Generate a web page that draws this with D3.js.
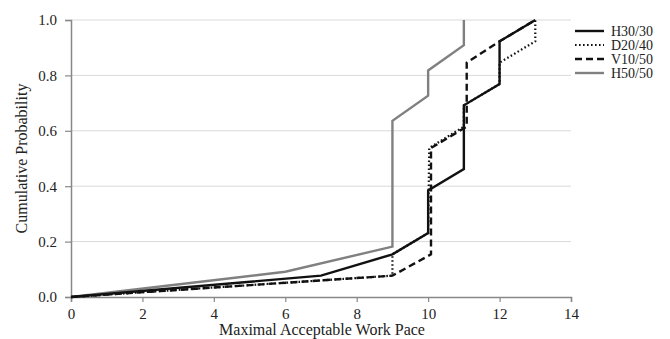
<!DOCTYPE html>
<html>
<head>
<meta charset="utf-8">
<script src="https://cdn.jsdelivr.net/npm/d3@7"></script>
<style>
  html, body { margin: 0; padding: 0; background: #fff; }
  svg { display: block; }
  text { font-family: "Liberation Serif", "DejaVu Serif", serif; fill: #222; }
</style>
</head>
<body>
<div id="chart"></div>
<script>
// series (x = work pace, y = cumulative probability)
const h3030 = [[0, 0], [7, 0.077], [9, 0.154], [10, 0.231], [10, 0.385], [11, 0.462], [11, 0.692], [12, 0.769], [12, 0.923], [13, 1.0]];
const d2040 = [[0, 0], [9, 0.077], [9, 0.154], [10, 0.231], [10.03, 0.538], [11, 0.615], [11, 0.692], [12, 0.769], [12, 0.846], [13, 0.923], [13, 1.0]];
const v1050 = [[0, 0], [9, 0.077], [10.08, 0.154], [10.08, 0.538], [11.08, 0.615], [11.08, 0.846], [12, 0.923], [13, 1.0]];
const h5050 = [[0, 0], [6, 0.091], [9, 0.182], [9, 0.636], [10, 0.727], [10, 0.818], [11, 0.909], [11, 1.0]];

const seriesNames = ['H30/30', 'D20/40', 'V10/50', 'H50/50'];
const xTicks = [0, 2, 4, 6, 8, 10, 12, 14];
const yTicks = [0, 0.2, 0.4, 0.6, 0.8, 1.0];

const styles = {
  'H30/30': { color: '#111', dash: null, width: 2.4 },
  'D20/40': { color: '#111', dash: '1.6,2.4', width: 2.2 },
  'V10/50': { color: '#111', dash: '7,4', width: 2.4 },
  'H50/50': { color: '#808080', dash: null, width: 2.4 }
};
const seriesData = { 'H30/30': h3030, 'D20/40': d2040, 'V10/50': v1050, 'H50/50': h5050 };

const width = 670, height = 339;
const margin = { top: 20, right: 99, bottom: 42, left: 71 };

const svg = d3.select('#chart').append('svg')
  .attr('width', width)
  .attr('height', height);

const x = d3.scaleLinear().domain([0, 14]).range([margin.left, width - margin.right]);
const y = d3.scaleLinear().domain([0, 1]).range([height - margin.bottom, margin.top]);

// gridlines
svg.append('g')
  .selectAll('line')
  .data(yTicks.filter(d => d > 0))
  .join('line')
  .attr('x1', x(0)).attr('x2', x(14))
  .attr('y1', d => y(d)).attr('y2', d => y(d))
  .attr('stroke', '#d9d9d9')
  .attr('stroke-width', 1);

// axes
const yAxis = svg.append('g')
  .attr('transform', `translate(${x(0)},0)`)
  .call(d3.axisLeft(y).tickValues(yTicks).tickFormat(d3.format('.1f')).tickSize(6).tickPadding(8));
const xAxis = svg.append('g')
  .attr('transform', `translate(0,${y(0)})`)
  .call(d3.axisBottom(x).tickValues(xTicks).tickSize(5).tickPadding(6));

[yAxis, xAxis].forEach(g => {
  g.select('.domain').attr('stroke', '#888').attr('stroke-width', 1.5);
  g.selectAll('.tick line').attr('stroke', '#888').attr('stroke-width', 1.2);
  g.selectAll('.tick text').style('font-size', '15px').attr('fill', '#222')
    .style('font-family', '"Liberation Serif", serif');
});

// lines
const line = d3.line().x(d => x(d[0])).y(d => y(d[1]));
svg.append('g')
  .selectAll('path')
  .data(seriesNames.slice().reverse())
  .join('path')
  .attr('d', n => line(seriesData[n]))
  .attr('fill', 'none')
  .attr('stroke', n => styles[n].color)
  .attr('stroke-width', n => styles[n].width)
  .attr('stroke-dasharray', n => styles[n].dash)
  .attr('stroke-linejoin', 'miter');

// legend
const legend = svg.append('g').attr('transform', 'translate(575,31)');
const item = legend.selectAll('g')
  .data(seriesNames)
  .join('g')
  .attr('transform', (d, i) => `translate(0,${i * 14})`);
item.append('line')
  .attr('x1', 0).attr('x2', 29)
  .attr('stroke', n => styles[n].color)
  .attr('stroke-width', n => styles[n].width)
  .attr('stroke-dasharray', n => styles[n].dash);
item.append('text')
  .attr('x', 36).attr('dy', '0.35em')
  .style('font-size', '14px')
  .text(d => d);

// axis titles
svg.append('text')
  .attr('x', x(7) + 1).attr('y', 335)
  .attr('text-anchor', 'middle')
  .style('font-size', '16px')
  .text('Maximal Acceptable Work Pace');
svg.append('text')
  .attr('transform', `translate(27,${y(0.5)}) rotate(-90)`)
  .attr('text-anchor', 'middle')
  .style('font-size', '16px')
  .text('Cumulative Probability');
</script>
</body>
</html>
